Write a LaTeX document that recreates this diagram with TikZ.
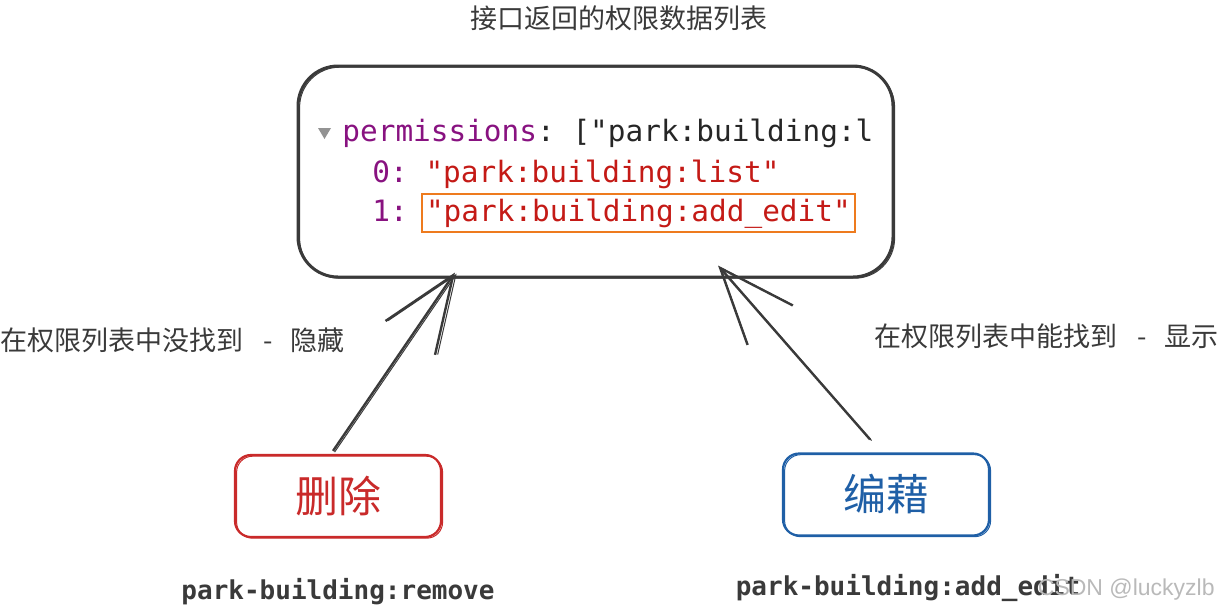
\documentclass[tikz,border=0pt]{standalone}
\usepackage{fontspec}
\setmonofont{DejaVu Sans Mono}
\setsansfont{Liberation Sans}
\newfontfamily\cjk{Noto Sans CJK SC}
\usetikzlibrary{arrows.meta, calc}
\definecolor{inkgray}{HTML}{3A3A3A}
\definecolor{keypurple}{HTML}{881280}
\definecolor{strred}{HTML}{C41A16}
\definecolor{hlorange}{HTML}{EE7B1E}
\definecolor{delred}{HTML}{C92A2A}
\definecolor{editblue}{HTML}{1F5FA6}

\begin{document}
\begin{tikzpicture}[x=0.5pt, y=-0.5pt, sketch/.style={postaction={draw, line width=0.5pt, transform canvas={xshift=0.8pt, yshift=-0.6pt}}}, databox/.style={draw=inkgray, line width=1.5pt, rounded corners=20pt, minimum width=297.5pt, minimum height=105.5pt, sketch}, code/.style={font=\ttfamily\fontsize{14.7}{17}\selectfont, text=black!85, inner sep=0pt, anchor=base west}, hl/.style={draw=hlorange, line width=1pt, inner xsep=2pt, inner ysep=2.2pt}, btn/.style={draw, rounded corners=8pt, line width=1.1pt, minimum width=103pt, minimum height=41pt, font=\cjk\fontsize{21.5}{24}\selectfont, sketch}, note/.style={font=\cjk\fontsize{13.5}{16}\selectfont, text=inkgray, inner sep=0pt}, perm/.style={font=\ttfamily\bfseries\fontsize{13}{15}\selectfont, text=inkgray, inner sep=0pt}, link/.style={-{Straight Barb[length=38pt, width=30pt]}, line width=1.2pt, draw=inkgray, sketch}]
\useasboundingbox (0,0) rectangle (1219,605);

% title and permission list
\node[font=\cjk\fontsize{13.5}{16}\selectfont, text=inkgray] (title) at (619,18) {接口返回的权限数据列表};
\node[databox] (list) at (595.5,171.5) {};
\fill[gray!85] (318,128) -- (331,128) -- (324.5,139) -- cycle;
\node[code] (row0) at (342,141) {\textcolor{keypurple}{permissions}: ["park:building:l};
\node[code] (row1) at (372,182) {\textcolor{keypurple}{0:} \textcolor{strred}{"park:building:list"}};
\node[code] (row2) at (372,221) {\textcolor{keypurple}{1:}};
\node[code, hl, text=strred] (addedit) at (421,221) {"park:building:add\_edit"};

% buttons
\node[btn, draw=delred, text=delred] (del) at (338,496) {删除};
\node[btn, draw=editblue, text=editblue] (edit) at (886,494.5) {编藉};
\node[perm] (delperm) at (338,592) {park-building:remove};
\node[perm] (editperm) at (908,588) {park-building:add\_edit};
\node[font=\sffamily\fontsize{11.5}{13}\selectfont, text=gray!55, anchor=east, inner sep=0pt] (mark) at (1215,590) {CSDN @luckyzlb};

% arrows
\coordinate (hidetip) at ($(list.south)+(-140.5,-6)$);
\coordinate (showtip) at ($(list.south)+(122.5,-13)$);
\draw[link] ($(del.north)+(-5,-3)$) -- (hidetip);
\draw[link] ($(edit.north)+(-16,-13)$) -- (showtip);
\node[note, anchor=west] (hide) at (0,340) {在权限列表中没找到\hspace{10pt}-\hspace{9pt}隐藏};
\node[note, anchor=east] (show) at (1219,336) {在权限列表中能找到\hspace{10pt}-\hspace{9pt}显示};
\end{tikzpicture}
\end{document}
